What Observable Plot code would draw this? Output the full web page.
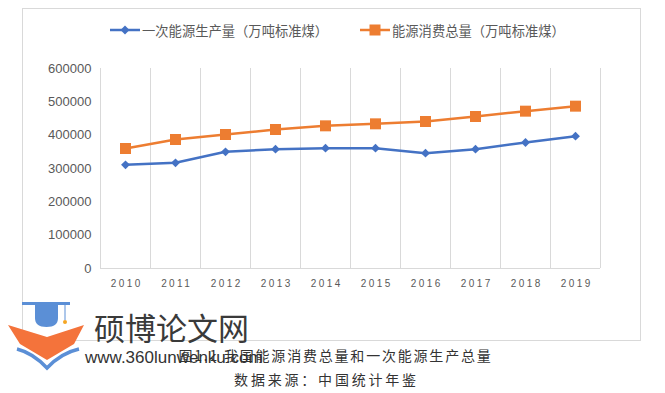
<!DOCTYPE html>
<html><head><meta charset="utf-8">
<script src="https://cdn.jsdelivr.net/npm/d3@7"></script>
<script src="https://cdn.jsdelivr.net/npm/@observablehq/plot@0.6"></script>
<style>
body{margin:0;background:#fff;width:665px;height:393px;position:relative;overflow:hidden;font-family:"Noto Sans CJK SC","Noto Sans",sans-serif;}
#frame{position:absolute;left:22px;top:8px;width:619px;height:333px;border:1px solid #d9d9d9;box-sizing:border-box;}
#chart{position:absolute;left:0;top:50px;}
.leg{position:absolute;top:20px;height:20px;display:flex;align-items:center;font-size:13.3px;color:#595959;white-space:nowrap;}
.leg svg{margin-right:2px;}
.cap{position:absolute;left:0;width:665px;text-align:center;color:#333;font-size:14px;white-space:nowrap;line-height:20px;}
#wm{position:absolute;left:0;top:0;}
.wmt{position:absolute;white-space:nowrap;}
</style></head>
<body>
<div id="frame"></div>
<div id="chart"></div>
<div id="legend"></div>
<div class="cap" id="cap1" style="top:345px;letter-spacing:1.8px;padding-left:6px;box-sizing:border-box;"></div>
<div class="cap" id="cap2" style="top:369px;letter-spacing:2.8px;padding-right:12px;box-sizing:border-box;"></div>
<svg id="wm" width="665" height="393" style="pointer-events:none">
  <rect x="22" y="302" width="48" height="3" fill="#5b8fd6"/>
  <path d="M35,305 L58,305 L58,318 Q58,327 46.5,327 Q35,327 35,318 Z" fill="#5b8fd6"/>
  <line x1="65" y1="305" x2="65" y2="320" stroke="#5b8fd6" stroke-width="1"/>
  <circle cx="65" cy="322" r="2" fill="#f5a623"/>
  <path d="M8,325 L47,337 L84,325 L74,344 L47,360 L20,344 Z" fill="#f4733b"/>
  <path d="M17,349 Q33,353 47,368 Q61,353 79,349" fill="none" stroke="#5b8fd6" stroke-width="3.5"/>
</svg>
<div class="wmt" style="left:94px;top:307px;font-size:31px;line-height:40px;color:#3a3a3a;">硕博论文网</div>
<div class="wmt" style="left:85px;top:346px;font-size:17px;line-height:24px;color:#333;font-family:'Liberation Sans',Arial,sans-serif;">www.360lunwenku.com</div>
<script>
const years = ["2010","2011","2012","2013","2014","2015","2016","2017","2018","2019"];
const production = [311000, 317000, 350000, 358000, 361000, 361000, 346000, 358000, 378000, 397000];
const consumption = [360000, 387000, 402000, 417000, 428000, 434000, 441000, 456000, 472000, 487000];
const yTicks = [0, 100000, 200000, 300000, 400000, 500000, 600000];
const seriesNames = ["一次能源生产量（万吨标准煤）", "能源消费总量（万吨标准煤）"];
const seriesColors = ["#4472C4", "#ED7D31"];
const caption1 = "图1.1 我国能源消费总量和一次能源生产总量";
const caption2 = "数据来源：中国统计年鉴";

const prodData = years.map((y, i) => ({year: y, value: production[i]}));
const consData = years.map((y, i) => ({year: y, value: consumption[i]}));

const chart = Plot.plot({
  width: 640, height: 250,
  marginLeft: 100, marginRight: 40, marginTop: 18, marginBottom: 32,
  style: {background: "transparent", color: "#595959", fontFamily: "'Liberation Sans', Arial, sans-serif", overflow: "visible"},
  x: {type: "band", domain: years, padding: 0, tickSize: 0, tickPadding: 11, label: null},
  y: {domain: [0, 600000], ticks: yTicks, tickSize: 0, tickPadding: 9, tickFormat: d => String(d), label: null},
  marks: [
    Plot.ruleX(years, {x: d => d, dx: -25, stroke: "#d9d9d9", strokeWidth: 1}),
    Plot.ruleX(years.slice(-1), {x: d => d, dx: 25, stroke: "#d9d9d9", strokeWidth: 1}),
    Plot.ruleY([0], {stroke: "#d9d9d9", strokeWidth: 1}),
    Plot.line(prodData, {x: "year", y: "value", stroke: seriesColors[0], strokeWidth: 2.5}),
    Plot.dot(prodData, {x: "year", y: "value", symbol: "diamond2", r: 4, fill: seriesColors[0], stroke: "none"}),
    Plot.line(consData, {x: "year", y: "value", stroke: seriesColors[1], strokeWidth: 2.5}),
    Plot.dot(consData, {x: "year", y: "value", symbol: "square", r: 6.2, fill: seriesColors[1], stroke: "none"})
  ]
});
document.getElementById("chart").appendChild(chart);
d3.select(chart).selectAll("g[aria-label^='x-axis'] text").style("font-size", "10px").style("letter-spacing", "2.4px").attr("dx", "1.2");
d3.select(chart).selectAll("g[aria-label^='y-axis'] text").style("font-size", "13px");

// legend
const legend = document.getElementById("legend");
const legLeft = [110, 360];
seriesNames.forEach((name, i) => {
  const div = document.createElement("div");
  div.className = "leg";
  div.style.left = legLeft[i] + "px";
  const marker = i === 0
    ? `<path d="M0,10 L30,10" stroke="${seriesColors[i]}" stroke-width="2.5"/><path d="M15,5.5 L19.5,10 L15,14.5 L10.5,10 Z" fill="${seriesColors[i]}"/>`
    : `<path d="M0,10 L30,10" stroke="${seriesColors[i]}" stroke-width="2.5"/><rect x="9.5" y="4.5" width="11" height="11" fill="${seriesColors[i]}"/>`;
  div.innerHTML = `<svg width="30" height="20">${marker}</svg><span>${name}</span>`;
  legend.appendChild(div);
});
document.getElementById("cap1").textContent = caption1;
document.getElementById("cap2").textContent = caption2;
</script>
</body></html>
